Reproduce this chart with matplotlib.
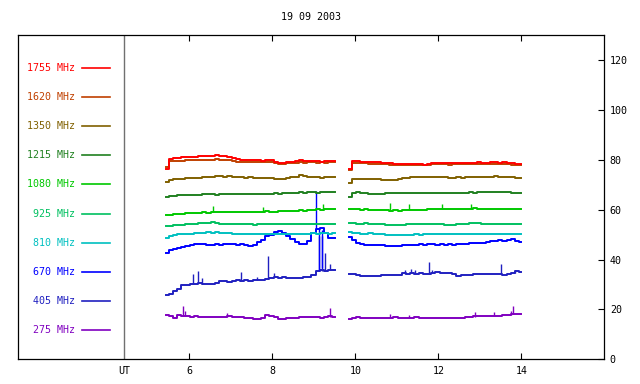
import numpy as np
import matplotlib
matplotlib.use("Agg")
import matplotlib.pyplot as plt

# --- data -----------------------------------------------------------------
title = "19 09 2003"
freqs = ["275", "405", "670", "810", "925", "1080", "1215", "1350", "1620", "1755"]
colors = ["#8000c0", "#2020c0", "#0000ff", "#00c0c0", "#00c060",
          "#00c800", "#208020", "#806000", "#c04000", "#ff0000"]

# two observing intervals (UT hours)
t1 = np.linspace(5.45, 9.5, 41)
t2 = np.linspace(9.86, 14.0, 42)

s1755_1 = [76.5, 80.4, 80.8, 80.6, 81.0, 81.2, 81.0, 81.3, 81.5, 81.4, 81.7, 81.6, 81.8, 81.5,
           81.4, 81.2, 80.9, 80.3, 80.1, 79.9, 79.8, 80.0, 79.8, 79.7, 79.9, 79.8, 79.2, 78.9,
           78.8, 79.1, 79.3, 79.5, 79.8, 79.7, 79.6, 79.4, 79.5, 79.3, 79.6, 79.5, 79.6]
s1755_2 = [76.5, 79.4, 79.5, 79.3, 79.2, 79.1, 79.0, 79.1, 78.9, 78.7, 78.6, 78.5, 78.5, 78.3,
           78.4, 78.2, 78.2, 78.3, 78.1, 78.4, 78.8, 78.9, 78.7, 78.8, 78.6, 78.8, 78.9, 78.7,
           78.8, 78.9, 78.8, 79.0, 78.9, 78.8, 79.0, 79.1, 78.9, 79.0, 78.8, 78.6, 78.4, 78.2]

s1620_1 = [77.0, 79.4, 79.5, 79.6, 79.7, 79.8, 79.8, 79.9, 80.0, 80.1, 80.1, 80.0, 80.2, 80.0,
           79.9, 79.8, 79.7, 79.3, 79.3, 79.2, 79.3, 79.2, 79.1, 79.2, 79.0, 79.0, 78.6, 78.5,
           78.4, 78.6, 78.8, 78.9, 79.0, 78.9, 79.1, 79.0, 78.9, 79.0, 78.8, 79.0, 79.0]
s1620_2 = [76.0, 78.8, 78.9, 78.7, 78.6, 78.5, 78.4, 78.5, 78.3, 78.2, 78.0, 78.0, 78.1, 77.9,
           77.8, 77.9, 77.8, 77.9, 77.8, 78.0, 78.2, 78.3, 78.2, 78.3, 78.1, 78.2, 78.3, 78.2,
           78.3, 78.4, 78.2, 78.4, 78.3, 78.2, 78.4, 78.5, 78.3, 78.4, 78.2, 78.1, 78.0, 77.9]

s1350_1 = [71.2, 71.8, 72.2, 72.4, 72.5, 72.7, 72.8, 72.7, 72.9, 73.0, 73.0, 73.1, 73.7, 73.6,
           73.3, 73.4, 73.2, 73.1, 73.0, 72.9, 73.0, 72.8, 72.9, 72.7, 72.8, 72.6, 72.4, 72.3,
           72.5, 72.7, 73.0, 73.3, 73.8, 73.5, 73.2, 73.0, 73.1, 72.9, 73.1, 73.0, 73.0]
s1350_2 = [70.7, 72.2, 72.3, 72.4, 72.3, 72.2, 72.3, 72.2, 72.1, 72.0, 72.1, 72.0, 72.2, 72.6,
           72.9, 73.1, 73.0, 73.1, 73.2, 73.1, 73.1, 73.3, 73.0, 73.1, 72.9, 72.9, 73.0, 72.8,
           73.0, 73.1, 73.1, 73.2, 73.0, 73.2, 73.3, 73.4, 73.3, 73.2, 73.1, 73.0, 72.9, 72.9]

s1215_1 = [65.2, 65.5, 65.6, 65.8, 65.9, 66.0, 65.9, 66.1, 66.0, 66.2, 66.2, 66.3, 66.1, 66.4,
           66.3, 66.2, 66.3, 66.4, 66.2, 66.3, 66.4, 66.3, 66.5, 66.4, 66.3, 66.5, 66.6, 66.5,
           66.7, 66.6, 66.7, 66.9, 67.0, 66.8, 67.0, 67.1, 66.9, 67.0, 67.2, 67.1, 67.1]
s1215_2 = [65.1, 66.8, 67.0, 66.7, 66.6, 66.5, 66.4, 66.5, 66.4, 66.6, 66.7, 66.6, 66.8, 66.7,
           66.6, 66.7, 66.8, 66.9, 66.7, 66.8, 66.9, 66.8, 66.7, 66.9, 66.8, 66.7, 66.8, 66.9,
           66.8, 67.0, 66.9, 67.0, 67.1, 67.0, 67.2, 67.1, 67.2, 67.0, 67.1, 66.9, 66.8, 66.9]

s1080_1 = [57.8, 58.0, 58.2, 58.4, 58.5, 58.7, 58.6, 58.8, 58.9, 59.0, 58.9, 59.0, 59.1, 59.0,
           59.1, 59.1, 59.0, 59.2, 59.1, 59.2, 59.3, 59.2, 59.3, 59.2, 59.4, 59.3, 59.2, 59.5,
           59.4, 59.6, 59.7, 59.6, 59.8, 59.7, 60.0, 60.1, 60.2, 60.0, 60.3, 60.4, 60.4]
s1080_2 = [60.2, 60.3, 60.2, 60.1, 60.2, 60.0, 60.1, 60.0, 59.9, 59.8, 59.7, 59.8, 59.7, 59.9,
           60.0, 60.0, 59.9, 60.1, 60.0, 60.2, 60.3, 60.2, 60.3, 60.2, 60.3, 60.2, 60.3, 60.4,
           60.3, 60.5, 60.6, 60.4, 60.3, 60.4, 60.3, 60.4, 60.5, 60.4, 60.3, 60.5, 60.4, 60.5]

s925_1 = [53.4, 53.6, 53.8, 53.9, 54.0, 54.2, 54.3, 54.4, 54.6, 54.7, 54.8, 54.9, 54.7, 54.4,
          54.3, 54.2, 54.2, 54.1, 54.2, 54.1, 54.1, 54.0, 54.1, 54.2, 54.1, 54.2, 54.1, 54.2,
          54.1, 54.2, 54.1, 54.2, 54.3, 54.2, 54.3, 54.3, 54.4, 54.3, 54.4, 54.4, 54.4]
s925_2 = [54.6, 54.5, 54.4, 54.4, 54.5, 54.4, 54.4, 54.4, 54.3, 54.0, 53.7, 53.7, 53.8, 54.0,
          54.2, 54.2, 54.1, 54.2, 54.2, 54.3, 54.2, 54.2, 54.1, 54.0, 53.9, 54.0, 54.1, 54.2,
          54.4, 54.6, 54.6, 54.5, 54.4, 54.3, 54.2, 54.3, 54.2, 54.3, 54.2, 54.3, 54.2, 54.2]

s810_1 = [48.8, 49.4, 49.8, 50.1, 50.2, 50.3, 50.4, 50.5, 50.6, 50.8, 50.9, 50.8, 50.9, 50.7,
          50.6, 50.5, 50.4, 50.4, 50.3, 50.4, 50.4, 50.3, 50.4, 50.3, 50.3, 50.2, 50.3, 50.3,
          50.2, 50.3, 50.3, 50.4, 50.4, 50.3, 50.4, 50.5, 50.4, 50.5, 50.5, 50.4, 50.5]
s810_2 = [51.0, 50.7, 50.5, 50.4, 50.4, 50.5, 50.4, 50.4, 50.3, 50.0, 49.7, 49.7, 49.8, 49.9,
          50.0, 50.0, 50.1, 50.0, 50.2, 50.2, 50.1, 50.2, 50.2, 50.1, 50.2, 50.2, 50.3, 50.2,
          50.2, 50.3, 50.2, 50.3, 50.4, 50.3, 50.4, 50.3, 50.4, 50.4, 50.3, 50.4, 50.4, 50.4]

s670_1 = [42.6, 44.0, 44.4, 44.7, 45.1, 45.5, 45.8, 46.1, 46.3, 46.1, 45.9, 46.0, 46.2, 46.0,
          46.1, 46.2, 46.1, 46.0, 46.1, 45.7, 45.4, 46.0, 47.0, 48.0, 49.3, 50.0, 51.0, 51.6,
          50.8, 49.5, 48.3, 47.2, 46.4, 46.3, 47.5, 50.5, 52.4, 52.6, 50.5, 48.6, 48.5]
s670_2 = [48.9, 48.0, 46.8, 46.2, 45.9, 45.8, 46.0, 45.8, 45.9, 45.6, 45.4, 45.3, 45.5, 45.7,
          45.9, 45.8, 46.0, 46.2, 46.0, 46.3, 46.1, 45.9, 46.2, 46.0, 46.3, 46.0, 46.2, 46.1,
          46.3, 46.5, 46.6, 46.5, 46.8, 47.2, 47.5, 47.3, 47.8, 47.6, 47.9, 48.2, 47.6, 47.0]

s405_1 = [25.7, 26.4, 27.3, 28.4, 30.0, 29.9, 30.4, 30.2, 30.6, 30.3, 30.1, 30.4, 30.8, 31.3,
          31.4, 31.2, 31.6, 31.8, 31.5, 31.7, 31.6, 31.9, 32.0, 31.7, 32.1, 32.6, 33.2, 32.8,
          32.9, 32.7, 32.5, 32.6, 32.8, 32.9, 33.2, 33.9, 35.6, 35.9, 35.4, 35.8, 35.9]
s405_2 = [34.2, 34.2, 34.0, 33.6, 33.5, 33.6, 33.5, 33.6, 33.7, 33.8, 33.9, 33.8, 34.0, 34.6,
          34.4, 34.8, 34.3, 34.5, 34.4, 34.3, 34.6, 35.0, 34.8, 34.5, 34.6, 34.2, 33.6, 33.8,
          33.9, 34.0, 34.2, 34.1, 34.3, 34.2, 34.1, 34.2, 34.3, 34.0, 34.3, 34.6, 35.3, 35.0]

s275_1 = [17.7, 17.2, 16.7, 17.6, 17.3, 17.4, 17.1, 17.2, 17.0, 17.1, 17.1, 17.0, 16.9, 17.0,
          16.9, 17.4, 17.1, 16.9, 16.8, 16.7, 16.5, 16.3, 16.1, 16.6, 17.7, 17.4, 17.0, 16.3,
          16.1, 16.4, 16.5, 16.6, 16.8, 16.9, 16.8, 17.1, 16.9, 16.7, 16.8, 17.2, 17.1]
s275_2 = [16.2, 16.4, 16.9, 16.5, 16.6, 16.5, 16.4, 16.6, 16.5, 16.7, 16.6, 16.8, 16.6, 16.7,
          16.7, 16.6, 16.8, 16.6, 16.7, 16.6, 16.7, 16.6, 16.5, 16.6, 16.5, 16.6, 16.7, 16.6,
          16.8, 17.0, 17.4, 17.2, 17.3, 17.2, 17.4, 17.5, 17.4, 17.6, 17.8, 18.2, 18.0, 18.1]

# short bursts: (UT, level before, peak)
bursts_1080 = [(6.58, 59.0, 61.6), (7.77, 59.3, 61.3), (9.21, 60.1, 62.4),
               (10.84, 60.0, 62.7), (11.3, 59.9, 62.4), (12.1, 60.3, 62.4), (12.8, 60.4, 62.4)]
bursts_670 = [(9.06, 52.4, 67.4), (9.13, 52.6, 36.0), (9.2, 52.0, 36.5)]
bursts_405 = [(6.1, 30.3, 34.3), (6.22, 30.6, 35.6), (6.3, 30.4, 32.5), (7.25, 31.8, 35.2),
              (7.62, 31.9, 33.2), (7.9, 32.1, 41.5), (8.05, 32.9, 34.6), (9.12, 35.5, 49.3),
              (9.2, 35.5, 49.3), (9.27, 35.5, 42.6), (9.4, 35.8, 38.3),
              (11.2, 34.4, 35.8), (11.35, 34.6, 36.2), (11.45, 34.5, 36.0), (11.78, 34.6, 39.0),
              (11.85, 34.8, 36.0), (13.52, 34.2, 38.2), (13.85, 34.8, 35.9)]
bursts_275 = [(5.86, 17.3, 21.2), (5.9, 17.3, 19.5), (6.9, 17.0, 18.5), (9.38, 17.0, 20.5),
              (10.84, 16.8, 18.0), (11.3, 16.6, 17.8), (12.89, 17.0, 18.9), (13.35, 17.4, 18.9),
              (13.75, 17.8, 19.5), (13.8, 18.0, 21.3)]

series_1 = [s275_1, s405_1, s670_1, s810_1, s925_1, s1080_1, s1215_1, s1350_1, s1620_1, s1755_1]
series_2 = [s275_2, s405_2, s670_2, s810_2, s925_2, s1080_2, s1215_2, s1350_2, s1620_2, s1755_2]
bursts = {"275": bursts_275, "405": bursts_405, "670": bursts_670, "1080": bursts_1080}

# --- plot -----------------------------------------------------------------
FONT = "DejaVu Sans Mono"
FS = 7.2
plt.rcParams["font.family"] = FONT

fig = plt.figure(figsize=(6.4, 3.84), dpi=100)
ax = fig.add_axes([0.0286, 0.0643, 0.9156, 0.8438])

for i, f in enumerate(freqs):
    c = colors[i]
    ax.plot(t1, series_1[i], color=c, lw=1.4, drawstyle="steps-mid")
    ax.plot(t2, series_2[i], color=c, lw=1.4, drawstyle="steps-mid")
    for (tb, lo, hi) in bursts.get(f, []):
        ax.vlines(tb, lo, hi, color=c, lw=1.0)

    # legend on the left part of the panel
    ly = 11.7 * (i + 1)
    ax.text(3.25, ly, f + " MHz", color=c, fontsize=FS, ha="right", va="center")
    ax.plot([3.41, 4.09], [ly, ly], color=c, lw=1.2)

ax.axvline(4.43, color="#707070", lw=1.0)

ax.set_xlim(1.88, 16.0)
ax.set_ylim(0, 130)

ax.set_xticks([4.43, 6, 8, 10, 12, 14])
ax.set_xticklabels(["UT", "6", "8", "10", "12", "14"], fontsize=FS)
ax.set_yticks([0, 20, 40, 60, 80, 100, 120])
ax.yaxis.tick_right()
ax.tick_params(axis="x", direction="in", top=True, bottom=True, length=4, pad=5)
ax.tick_params(axis="y", direction="in", left=False, right=True, labelleft=False,
               labelright=True, length=4, pad=4, labelsize=FS)
ax.xaxis.get_major_ticks()[0].tick1line.set_visible(False)
ax.xaxis.get_major_ticks()[0].tick2line.set_visible(False)

for sp in ax.spines.values():
    sp.set_linewidth(0.9)

fig.text(0.486, 0.955, title, fontsize=FS, ha="center", va="center")

fig.savefig("out.png", dpi=100)
